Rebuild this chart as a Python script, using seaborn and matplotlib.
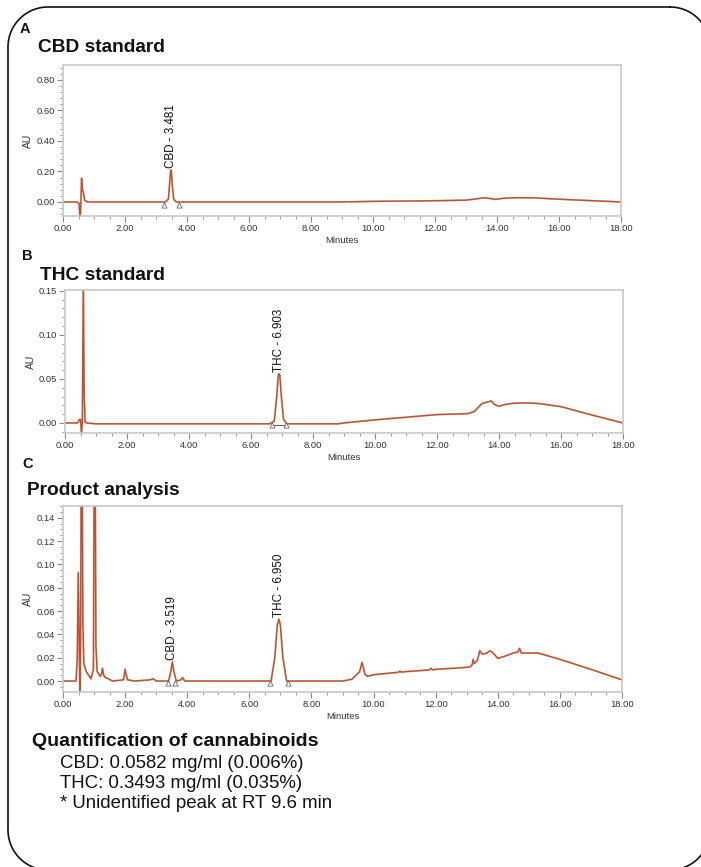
import numpy as np
import pandas as pd
import matplotlib
matplotlib.use("Agg")
import matplotlib.pyplot as plt
from matplotlib.lines import Line2D
from matplotlib.ticker import MultipleLocator, FormatStrFormatter
import seaborn as sns

# ---------------- data ----------------
# Panel A: CBD standard
cbd_std_t = [0.0, 0.45, 0.52, 0.55, 0.57, 0.60, 0.63, 0.66, 0.70, 0.80,
             3.30, 3.40, 3.44, 3.47, 3.48, 3.50, 3.53, 3.57, 3.65,
             9.0, 10.0, 12.0, 13.0, 13.4, 13.6, 13.8, 13.95, 14.2, 14.6,
             15.2, 16.0, 17.0, 18.0]
cbd_std_au = [0.0, 0.0, -0.01, -0.12, -0.05, 0.155, 0.08, 0.06, 0.01, 0.0,
              0.0, 0.02, 0.12, 0.20, 0.21, 0.19, 0.10, 0.02, 0.0,
              0.0, 0.004, 0.008, 0.012, 0.022, 0.028, 0.022, 0.017, 0.024, 0.028,
              0.027, 0.018, 0.009, 0.0]
cbd_std_tri_t = [3.27, 3.74]
cbd_std_tri_au = [-0.02, -0.02]

# Panel B: THC standard
thc_std_t = [0.0, 0.40, 0.47, 0.50, 0.53, 0.56, 0.59, 0.62, 0.65, 0.70, 1.0,
             6.60, 6.75, 6.83, 6.88, 6.90, 6.93, 6.98, 7.05, 7.15,
             8.8, 9.0, 10.0, 11.0, 12.0, 13.0, 13.2, 13.45, 13.6, 13.75, 13.85,
             14.0, 14.2, 14.5, 15.0, 15.3, 16.0, 17.0, 18.0]
thc_std_au = [0.0, 0.0, 0.004, 0.004, -0.012, 0.0, 0.16, 0.03, 0.001, 0.0, -0.001,
              -0.001, 0.002, 0.03, 0.054, 0.056, 0.054, 0.03, 0.004, -0.001,
              -0.001, 0.0, 0.0035, 0.0065, 0.0095, 0.0106, 0.013, 0.022, 0.0235, 0.025, 0.021,
              0.019, 0.021, 0.0225, 0.0227, 0.022, 0.0185, 0.009, 0.0]
thc_std_tri_t = [6.68, 7.12]
thc_std_tri_au = [-0.002, -0.002]

# Panel C: product analysis
prod_t = [0.0, 0.42, 0.46, 0.49, 0.52, 0.55, 0.57, 0.60, 0.64, 0.67, 0.75, 0.9,
          0.98, 1.02, 1.06, 1.10, 1.2, 1.24, 1.27, 1.31, 1.36, 1.45, 1.6,
          1.95, 2.0, 2.03, 2.08, 2.3, 2.8, 2.9, 3.0,
          3.40, 3.47, 3.52, 3.57, 3.65, 3.80, 3.85, 3.92, 4.3,
          6.70, 6.82, 6.90, 6.95, 7.00, 7.08, 7.20,
          9.0, 9.3, 9.55, 9.63, 9.72, 9.8, 10.0, 10.8, 10.85, 10.9, 11.0,
          11.8, 11.85, 11.9, 12.0, 12.9, 13.1, 13.18, 13.2, 13.25, 13.35,
          13.42, 13.5, 13.65, 13.75, 13.85, 14.0, 14.2, 14.5, 14.65, 14.7,
          14.76, 15.3, 16.0, 17.0, 18.0]
prod_au = [0.0, 0.0, 0.02, 0.093, 0.04, -0.03, 0.05, 0.30, 0.05, 0.015, 0.008, 0.002,
           0.01, 0.30, 0.03, 0.008, 0.004, 0.006, 0.011, 0.005, 0.003, 0.002, 0.0,
           0.001, 0.010, 0.006, 0.001, 0.0, 0.001, 0.002, 0.0,
           0.0, 0.008, 0.0163, 0.008, 0.0, 0.001, 0.003, 0.0, 0.0,
           0.0, 0.02, 0.048, 0.053, 0.048, 0.02, 0.0,
           0.0, 0.0015, 0.008, 0.016, 0.006, 0.004, 0.0054, 0.0075, 0.0085, 0.0075, 0.008,
           0.0095, 0.011, 0.0095, 0.010, 0.0115, 0.012, 0.014, 0.0186, 0.015, 0.018,
           0.026, 0.023, 0.024, 0.026, 0.024, 0.0195, 0.021, 0.024, 0.025, 0.028,
           0.024, 0.024, 0.0186, 0.010, 0.001]
prod_tri_t = [3.38, 3.60, 6.65, 7.23]
prod_tri_au = [-0.002, -0.002, -0.002, -0.002]

# peak annotations
cbd_std_label = ["CBD - 3.481"]
thc_std_label = ["THC - 6.903"]
prod_labels = ["CBD - 3.519", "THC - 6.950"]

# axis ticks
x_ticks = [0, 2, 4, 6, 8, 10, 12, 14, 16, 18]
a_yticks = [0.0, 0.2, 0.4, 0.6, 0.8]
b_yticks = [0.0, 0.05, 0.10, 0.15]
c_yticks = [0.0, 0.02, 0.04, 0.06, 0.08, 0.10, 0.12, 0.14]

panel_letters = ["A", "B", "C"]
panel_titles = ["CBD standard", "THC standard", "Product analysis"]
summary_title = "Quantification of cannabinoids"
summary_lines = ["CBD: 0.0582 mg/ml (0.006%)",
                 "THC: 0.3493 mg/ml (0.035%)",
                 "* Unidentified peak at RT 9.6 min"]

# ---------------- styling ----------------
sns.set_style("white")
plt.rcParams["font.family"] = ["Liberation Sans", "DejaVu Sans"]

W, H = 701, 867
fig = plt.figure(figsize=(W / 100, H / 100), dpi=100)


def rect(l, r, t, b):
    return [l / W, 1 - b / H, (r - l) / W, (b - t) / H]


MAIN = "#bf5038"
UNDER = "#9cc06a"
TICK_TXT = "#333333"


def draw_panel(r, t, au, ylim, yticks, yminor, labels, peak_t, peak_au,
               tri_t, tri_au, label_off, baseline_seg=False):
    ax = fig.add_axes(r)
    df = pd.DataFrame({"Minutes": t, "AU": au})
    sns.lineplot(data=df, x="Minutes", y="AU", ax=ax, sort=False, estimator=None,
                 color=UNDER, lw=1.6, alpha=0.35)
    sns.lineplot(data=df, x="Minutes", y="AU", ax=ax, sort=False, estimator=None,
                 color=MAIN, lw=1.1)
    tri = pd.DataFrame({"Minutes": tri_t, "AU": tri_au})
    if baseline_seg:
        ax.plot(tri_t, tri_au, color="#555555", lw=0.7, zorder=3)
    sns.scatterplot(data=tri, x="Minutes", y="AU", ax=ax, marker="^", s=14,
                    facecolor="white", edgecolor="#666666", linewidth=0.6, zorder=4)
    for lab, px, py in zip(labels, peak_t, peak_au):
        ax.text(px, py + label_off, lab, rotation=90, ha="center", va="bottom",
                fontsize=8.4, color="#111111")
    ax.set_xlim(0, 18)
    ax.set_ylim(*ylim)
    ax.set_xticks(x_ticks)
    ax.xaxis.set_minor_locator(MultipleLocator(0.5))
    ax.set_yticks(yticks)
    ax.yaxis.set_minor_locator(MultipleLocator(yminor))
    ax.xaxis.set_major_formatter(FormatStrFormatter("%.2f"))
    ax.yaxis.set_major_formatter(FormatStrFormatter("%.2f"))
    ax.tick_params(which="both", bottom=True, left=True, direction="out",
                   color="#8a8a8a")
    ax.tick_params(which="major", length=4, width=0.8, labelsize=6.8,
                   labelcolor=TICK_TXT, pad=2)
    ax.tick_params(which="minor", length=2.5, width=0.6)
    for s in ax.spines.values():
        s.set_color("#c8c8c8")
        s.set_linewidth(1.2)
    ax.set_xlabel("Minutes", fontsize=6.8, color=TICK_TXT, labelpad=2)
    ax.set_ylabel("AU", fontsize=7.5, color=TICK_TXT, labelpad=2)
    return ax


# Panel A
draw_panel(rect(63, 621, 65, 216), cbd_std_t, cbd_std_au, (-0.092, 0.898),
           a_yticks, 0.04, cbd_std_label, [3.48], [0.21],
           cbd_std_tri_t, cbd_std_tri_au, 0.012)
# Panel B
draw_panel(rect(65, 623, 290, 433), thc_std_t, thc_std_au, (-0.0114, 0.151),
           b_yticks, 0.01, thc_std_label, [6.90], [0.056],
           thc_std_tri_t, thc_std_tri_au, 0.002, baseline_seg=True)
# Panel C
draw_panel(rect(63, 622, 506, 692), prod_t, prod_au, (-0.0094, 0.150),
           c_yticks, 0.005, prod_labels, [3.52, 6.95], [0.0163, 0.053],
           prod_tri_t, prod_tri_au, 0.002)

# panel letters and titles (pixel positions -> figure fraction)
letter_pos = [(20, 33), (22, 260), (22, 468)]
title_pos = [(38, 52), (40, 280), (27, 495)]
for lab, (x, y) in zip(panel_letters, letter_pos):
    fig.text(x / W, 1 - y / H, lab, fontsize=10.5, fontweight="bold",
             va="baseline", ha="left", color="#111111")
for lab, (x, y) in zip(panel_titles, title_pos):
    fig.text(x / W, 1 - y / H, lab, fontsize=13.8, fontweight="bold",
             va="baseline", ha="left", color="#111111")

fig.text(32 / W, 1 - 746 / H, summary_title, fontsize=14, fontweight="bold",
         va="baseline", ha="left", color="#111111")
for i, line in enumerate(summary_lines):
    fig.text(60 / W, 1 - (768 + 20 * i) / H, line, fontsize=13.4,
             va="baseline", ha="left", color="#111111")

# rounded frame, built in pixel units then converted to figure fraction
L, R, T, B, RAD = 8.0, 710.0, 7.0, 870.0, 40.0
segs = []
for cx, cy, a0, a1 in [(R - RAD, T + RAD, -90, 0), (R - RAD, B - RAD, 0, 90),
                       (L + RAD, B - RAD, 90, 180), (L + RAD, T + RAD, 180, 270)]:
    ang = np.radians(np.linspace(a0, a1, 30))
    segs.append(np.column_stack([cx + RAD * np.cos(ang), cy + RAD * np.sin(ang)]))
pts = np.vstack(segs + [segs[0][:1]])
fig.add_artist(Line2D(pts[:, 0] / W, 1 - pts[:, 1] / H, transform=fig.transFigure,
                      color="#111111", lw=1.2, clip_on=False))

fig.savefig("out.png", dpi=100)
